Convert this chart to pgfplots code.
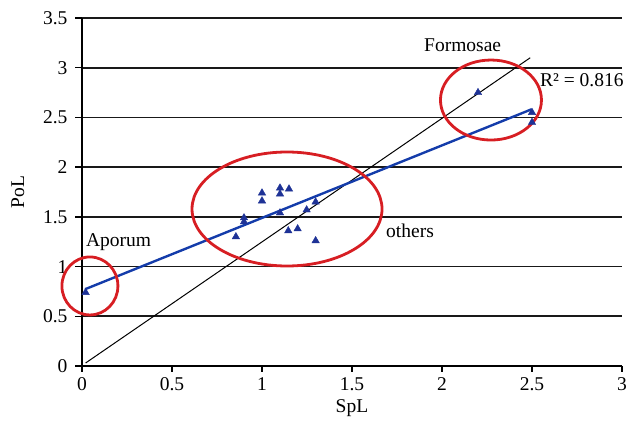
\documentclass[border=0pt]{standalone}
\usepackage{fontspec}
\setmainfont{Liberation Serif}
\usepackage{pgfplots}
\pgfplotsset{compat=1.18}
\definecolor{tri}{RGB}{30,50,150}
\definecolor{fitblue}{RGB}{20,60,170}
\definecolor{ring}{RGB}{215,30,35}
\newcommand\cf{\fontsize{19.5pt}{23pt}\selectfont}
\begin{document}
\begin{tikzpicture}
\begin{axis}[
  scale only axis, width=540pt, height=348pt,
  xmin=0, xmax=3, ymin=0, ymax=3.5,
  axis line style={draw=none},
  xtick={0,0.5,...,3}, ytick={0,0.5,...,3.5},
  xticklabels={0,0.5,1,1.5,2,2.5,3},
  yticklabels={0,0.5,1,1.5,2,2.5,3,3.5},
  major tick length=0pt,
  xtick pos=left, ytick pos=left,
  ymajorgrids, grid style={black!90, line width=1.6pt},
  /pgf/number format/assume math mode=true,
  every tick label/.append style={font=\cf},
  yticklabel style={xshift=-11pt},
  xticklabel style={yshift=-8pt},
  xlabel={SpL}, ylabel={PoL},
  label style={font=\cf},
  xlabel style={yshift=-2pt},
  ylabel style={yshift=12pt},
  clip=false,
]
\coordinate (ll) at (rel axis cs:0,0);
\coordinate (ur) at (rel axis cs:1,1);
\draw[black, line width=1.4pt] (rel axis cs:0,1) -- (rel axis cs:0,0) -- (rel axis cs:1,0);
\pgfplotsinvokeforeach{0,0.5,1,1.5,2,2.5,3}{
  \draw[black, line width=1.4pt] (axis cs:#1,0) -- ++(0,-6.5pt);
}
\pgfplotsinvokeforeach{0,0.5,1,1.5,2,2.5,3,3.5}{
  \draw[black, line width=1.4pt] (axis cs:0,#1) -- ++(-6.5pt,0);
}
% reference line
\addplot[black, line width=1pt] coordinates {(0.02,0.03) (2.49,3.1)};
% fitted trend line
\addplot[fitblue, line width=2.4pt] coordinates {(0.017,0.772) (2.498,2.582)};
% data
\addplot[only marks, mark=triangle*, mark size=4.3pt, color=tri] coordinates {
(0.02,0.74)
(2.2,2.75) (2.5,2.55) (2.5,2.45)
(1.0,1.74) (1.0,1.66) (1.1,1.79) (1.1,1.73) (1.15,1.78)
(0.9,1.49) (0.9,1.45) (1.1,1.54) (0.855,1.30) (1.146,1.36)
(1.198,1.38) (1.248,1.57) (1.298,1.65) (1.298,1.26)
};
\draw[ring, line width=2.8pt] (axis cs:0.044,0.805) ellipse [x radius=28pt, y radius=29pt];
\draw[ring, line width=2.8pt] (axis cs:1.139,1.579) ellipse [x radius=95pt, y radius=57pt];
\draw[ring, line width=2.8pt] (axis cs:2.272,2.675) ellipse [x radius=50.5pt, y radius=40pt];
\node[anchor=base west, inner sep=0pt, font=\cf] at (axis cs:1.9,3.161) {Formosae};
\node[anchor=base west, inner sep=0pt, font=\cf] at (axis cs:1.689,1.290) {others};
\node[anchor=base west, inner sep=0pt, font=\cf] at (axis cs:2.544,2.809) {R² = 0.816};
\node[anchor=base west, inner sep=0pt, font=\cf] at (axis cs:0.022,1.197) {Aporum};
\end{axis}
\pgfresetboundingbox
\path ([shift={(-82pt,-56pt)}]ll) rectangle ([shift={(15pt,18pt)}]ur);
\end{tikzpicture}
\end{document}
